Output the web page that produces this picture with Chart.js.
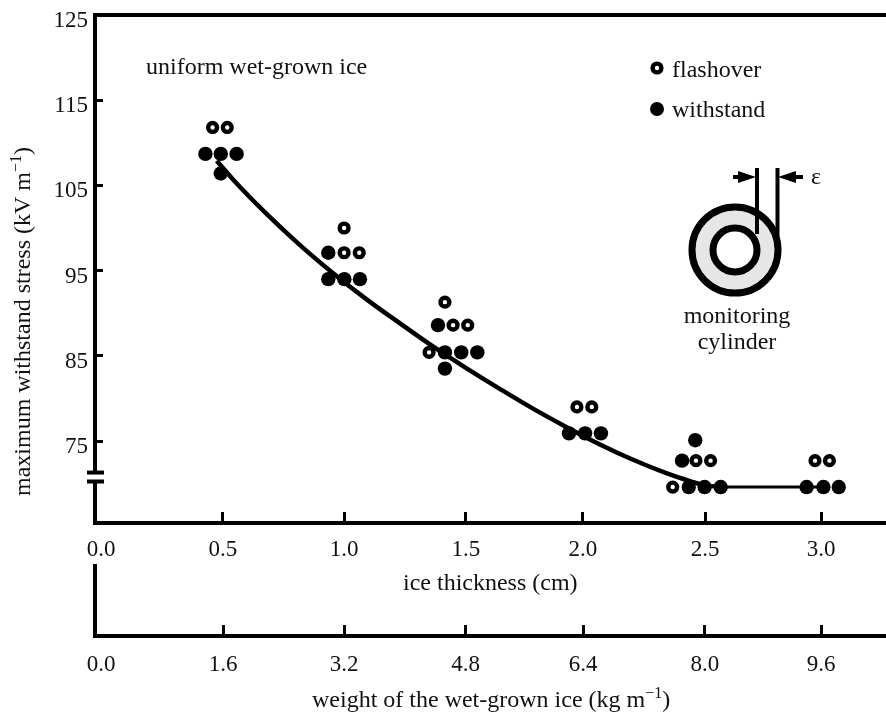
<!DOCTYPE html>
<html>
<head>
<meta charset="utf-8">
<style>
  html, body { margin: 0; padding: 0; background: #fff; }
  #wrap { position: relative; width: 886px; height: 712px; }
  canvas { position: absolute; left: 0; top: 0; }
</style>
<script src="https://cdn.jsdelivr.net/npm/chart.js@4"></script>
</head>
<body>
<div id="wrap">
  <canvas id="mainChart" width="886" height="712"></canvas>
  <canvas id="weightChart" width="886" height="712"></canvas>
</div>
<script>
// ice thickness (cm) / max withstand stress (kV/m)
const flashoverX = [0.465, 0.526, 1.013, 1.013, 1.076, 1.433, 1.467, 1.528, 1.367, 1.983, 2.045, 2.479, 2.54, 2.382, 2.975, 3.035];
const flashoverY = [111.8, 111.8, 100.0, 97.1, 97.1, 91.3, 88.6, 88.6, 85.4, 79.0, 79.0, 72.7, 72.7, 69.6, 72.7, 72.7];

const withstandX = [0.435, 0.499, 0.565, 0.499, 0.947, 0.947, 1.014, 1.079, 1.404, 1.433, 1.501, 1.568, 1.433, 1.95, 2.017, 2.083, 2.476, 2.421, 2.449, 2.515, 2.582, 2.94, 3.01, 3.074];
const withstandY = [108.7, 108.7, 108.7, 106.4, 97.1, 94.0, 94.0, 94.0, 88.6, 85.4, 85.4, 85.4, 83.5, 75.9, 75.9, 75.9, 75.1, 72.7, 69.6, 69.6, 69.6, 69.6, 69.6, 69.6];

const curveX = [0.482, 0.55, 0.692, 0.829, 0.967, 1.108, 1.246, 1.383, 1.525, 1.663, 1.8, 1.942, 2.079, 2.217, 2.358, 2.454, 2.517, 2.6];
const curveY = [107.9, 105.7, 101.6, 98.0, 94.7, 91.6, 88.8, 86.1, 83.5, 81.1, 78.8, 76.6, 74.6, 72.8, 71.2, 70.3, 69.8, 69.6];

const plateauX = [2.6, 3.01];
const plateauY = [69.6, 69.6];

const stressTicks = [75, 85, 95, 105, 115, 125];
// the ticks in the figure are hand placed, not quite evenly spaced
const thicknessTicks = [0, 0.508, 1.013, 1.52, 2.008, 2.517, 3.0];
const thicknessLabels = ['0.0', '0.5', '1.0', '1.5', '2.0', '2.5', '3.0'];
const weightTicks = [0, 1.627, 3.24, 4.863, 6.427, 8.053, 9.6];
const weightLabels = ['0.0', '1.6', '3.2', '4.8', '6.4', '8.0', '9.6'];

const SERIF = '"Liberation Serif", "Times New Roman", serif';
const TEXT_SIZE = 24;
const AXIS_FONT = { family: SERIF, size: 23 };

Chart.defaults.color = '#111';
Chart.defaults.animation = false;

function toPoints(xs, ys) {
  return xs.map((x, i) => ({ x, y: ys[i] }));
}

function xScale(min, max, tickValues, labels, labelPadding) {
  return {
    type: 'linear',
    position: 'bottom',
    min,
    max,
    afterBuildTicks: (axis) => {
      axis.ticks = tickValues.map((value) => ({ value }));
    },
    afterFit: (axis) => {
      axis.height = axis.chart.height - axis.chart.options.bottomEdge;
    },
    border: { display: true, color: '#000', width: 4 },
    grid: {
      drawOnChartArea: false,
      tickLength: -11,
      tickWidth: 3,
      tickColor: (ctx) => (ctx.index === 0 ? 'rgba(0,0,0,0)' : '#000'),
    },
    ticks: {
      autoSkip: false,
      maxRotation: 0,
      padding: labelPadding,
      font: AXIS_FONT,
      color: '#111',
      callback: (value, index) => labels[index],
    },
  };
}

function drawSuperLabel(ctx, x, y, before, sup, after) {
  ctx.textAlign = 'left';
  ctx.textBaseline = 'alphabetic';
  ctx.font = `${TEXT_SIZE}px ${SERIF}`;
  ctx.fillText(before, x, y);
  let pen = x + ctx.measureText(before).width;
  ctx.font = `16px ${SERIF}`;
  ctx.fillText(sup, pen, y - 9);
  pen += ctx.measureText(sup).width;
  ctx.font = `${TEXT_SIZE}px ${SERIF}`;
  ctx.fillText(after, pen, y);
}

function drawInset(ctx) {
  const cx = 735;
  const cy = 250;
  ctx.strokeStyle = '#000';
  ctx.fillStyle = '#e6e6e6';
  ctx.lineWidth = 7;
  ctx.beginPath();
  ctx.arc(cx, cy, 43, 0, Math.PI * 2);
  ctx.fill();
  ctx.stroke();
  ctx.fillStyle = '#fff';
  ctx.beginPath();
  ctx.arc(cx, cy, 22, 0, Math.PI * 2);
  ctx.fill();
  ctx.stroke();

  ctx.lineWidth = 4;
  ctx.beginPath();
  ctx.moveTo(757, 168);
  ctx.lineTo(757, 234);
  ctx.moveTo(777.5, 168);
  ctx.lineTo(777.5, 236);
  ctx.moveTo(733, 177);
  ctx.lineTo(750, 177);
  ctx.moveTo(785, 177);
  ctx.lineTo(803, 177);
  ctx.stroke();

  ctx.fillStyle = '#000';
  ctx.beginPath();
  ctx.moveTo(756, 177);
  ctx.lineTo(738, 171);
  ctx.lineTo(738, 183);
  ctx.closePath();
  ctx.moveTo(778, 177);
  ctx.lineTo(796, 171);
  ctx.lineTo(796, 183);
  ctx.closePath();
  ctx.fill();
}

const mainFigure = {
  id: 'mainFigure',
  afterDraw(chart) {
    const ctx = chart.ctx;
    const y = chart.scales.y;
    const left = chart.chartArea.left;

    // axis break: white gap with two short bars
    const breakTop = y.getPixelForValue(71.3);
    const breakBottom = y.getPixelForValue(70.25);
    ctx.save();
    ctx.fillStyle = '#fff';
    ctx.fillRect(left - 4, breakTop, 8, breakBottom - breakTop);
    ctx.fillStyle = '#000';
    ctx.fillRect(left - 8, breakTop - 2, 17, 4);
    ctx.fillRect(left - 8, breakBottom - 2, 17, 4);

    drawInset(ctx);

    ctx.fillStyle = '#111';
    ctx.font = `${TEXT_SIZE}px ${SERIF}`;
    ctx.textBaseline = 'alphabetic';
    ctx.textAlign = 'left';
    ctx.fillText('uniform wet-grown ice', 146, 74);
    ctx.fillText('flashover', 672, 77);
    ctx.fillText('withstand', 672, 117);
    ctx.fillText('\u03b5', 811, 184);
    ctx.textAlign = 'center';
    ctx.fillText('monitoring', 737, 323);
    ctx.fillText('cylinder', 737, 349);
    ctx.textAlign = 'left';
    ctx.fillText('ice thickness (cm)', 403, 590);

    ctx.save();
    ctx.translate(30, 496);
    ctx.rotate(-Math.PI / 2);
    drawSuperLabel(ctx, 0, 0, 'maximum withstand stress (kV m', '\u22121', ')');
    ctx.restore();

    // legend markers
    ctx.fillStyle = '#000';
    ctx.beginPath();
    ctx.arc(657, 68, 6.6, 0, Math.PI * 2);
    ctx.fill();
    ctx.fillStyle = '#fff';
    ctx.beginPath();
    ctx.arc(657, 68, 2.2, 0, Math.PI * 2);
    ctx.fill();
    ctx.fillStyle = '#000';
    ctx.beginPath();
    ctx.arc(657, 109, 7, 0, Math.PI * 2);
    ctx.fill();
    ctx.restore();
  },
};

const weightFigure = {
  id: 'weightFigure',
  afterDraw(chart) {
    const ctx = chart.ctx;
    ctx.save();
    ctx.fillStyle = '#111';
    drawSuperLabel(ctx, 312, 707, 'weight of the wet-grown ice (kg m', '\u22121', ')');
    ctx.restore();
  },
};

// px per cm is the same on both charts: 240, zero tick sitting right of the y axis
const CM_MIN = -0.025;
const CM_MAX = 3.2708;

new Chart(document.getElementById('mainChart'), {
  type: 'scatter',
  plugins: [mainFigure],
  data: {
    datasets: [
      {
        label: 'flashover',
        data: toPoints(flashoverX, flashoverY),
        backgroundColor: '#fff',
        borderColor: '#000',
        pointRadius: 4.4,
        pointBorderWidth: 4.4,
        order: 1,
      },
      {
        label: 'withstand',
        data: toPoints(withstandX, withstandY),
        backgroundColor: '#000',
        borderColor: '#000',
        pointRadius: 7.2,
        pointBorderWidth: 0,
        order: 2,
      },
      {
        label: 'fit',
        type: 'line',
        data: toPoints(curveX, curveY),
        borderColor: '#000',
        borderWidth: 4.5,
        pointRadius: 0,
        cubicInterpolationMode: 'monotone',
        order: 3,
      },
      {
        label: 'plateau',
        type: 'line',
        data: toPoints(plateauX, plateauY),
        borderColor: '#000',
        borderWidth: 3,
        pointRadius: 0,
        order: 3,
      },
    ],
  },
  options: {
    responsive: false,
    bottomEdge: 523,
    layout: { autoPadding: false, padding: { top: 15, right: 0, bottom: 0, left: 0 } },
    plugins: { legend: { display: false }, tooltip: { enabled: false } },
    scales: {
      x: xScale(CM_MIN, CM_MAX, thicknessTicks, thicknessLabels, 24),
      xTop: {
        type: 'linear',
        position: 'top',
        min: CM_MIN,
        max: CM_MAX,
        afterFit: (axis) => { axis.height = 0; },
        border: { display: true, color: '#000', width: 4 },
        grid: { display: false },
        ticks: { display: false },
      },
      y: {
        type: 'linear',
        position: 'left',
        min: 65.38,
        max: 125,
        afterBuildTicks: (axis) => {
          axis.ticks = stressTicks.map((value) => ({ value }));
        },
        afterFit: (axis) => {
          axis.width = 95;
          // the 125 label may stick out above the plot, do not push the top down for it
          axis.paddingTop = 0;
          axis.paddingBottom = 0;
        },
        border: { display: true, color: '#000', width: 4 },
        grid: {
          drawOnChartArea: false,
          tickLength: -8,
          tickWidth: 3,
          tickColor: '#000',
        },
        ticks: {
          autoSkip: false,
          padding: 15,
          labelOffset: 6,
          font: AXIS_FONT,
          color: '#111',
        },
      },
    },
  },
});

new Chart(document.getElementById('weightChart'), {
  type: 'scatter',
  plugins: [weightFigure],
  data: { datasets: [{ data: [] }] },
  options: {
    responsive: false,
    bottomEdge: 636,
    layout: { autoPadding: false, padding: { top: 566, right: 0, bottom: 0, left: 0 } },
    plugins: { legend: { display: false }, tooltip: { enabled: false } },
    scales: {
      x: xScale(CM_MIN * 3.2, CM_MAX * 3.2, weightTicks, weightLabels, 26),
      y: {
        type: 'linear',
        position: 'left',
        min: 0,
        max: 1,
        afterFit: (axis) => { axis.width = 95; },
        border: { display: true, color: '#000', width: 4 },
        grid: { display: false },
        ticks: { display: false },
      },
    },
  },
});
</script>
</body>
</html>
